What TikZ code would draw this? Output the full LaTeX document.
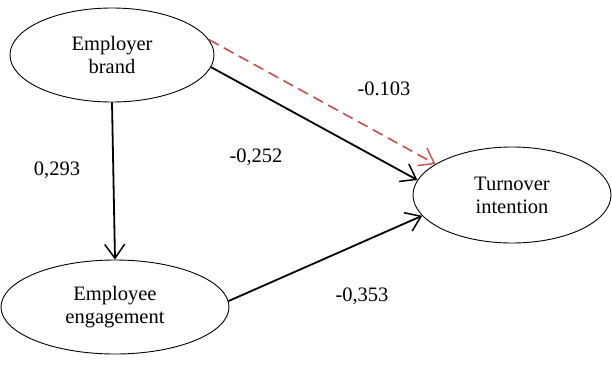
\documentclass[tikz,border=0pt]{standalone}
\usepackage{fontspec}
\setmainfont{Liberation Serif}
\newfontfamily\tnr{Liberation Serif}
\usetikzlibrary{shapes.geometric,arrows.meta}
\definecolor{dred}{RGB}{192,80,77}
\begin{document}
\begin{tikzpicture}[x=1pt,y=-1pt,
  every node/.style={font=\tnr\fontsize{20.5}{23}\selectfont},
  latent/.style={ellipse,draw,line width=0.9pt,inner sep=0pt,align=center},
  path/.style={line width=1.8pt,-{Straight Barb[length=14pt,width=20pt,line width=1.5pt]}},
  redpath/.style={line width=1.6pt,dred,dash pattern=on 11pt off 6pt,-{Straight Barb[length=14pt,width=20pt,line width=1.4pt]}},
  coef/.style={inner sep=0pt}]
\useasboundingbox (0,0) rectangle (612,364);
\node[latent,minimum width=204pt,minimum height=94pt] (eb) at (112,55) {Employer\\brand};
\node[latent,minimum width=228pt,minimum height=94pt] (ee) at (115,307) {Employee\\engagement};
\node[latent,minimum width=198pt,minimum height=96pt] (ti) at (512,195) {Turnover\\intention};
\draw[path] (eb.south) -- (ee.north);
\draw[path] (eb.-7) -- (ti.171);
\draw[redpath] (eb.9) -- (ti.158);
\draw[path] (ee.3) -- (ti.193);
\node[coef] (c1) at (57,170) {0,293};
\node[coef] (c2) at (256,157) {-0,252};
\node[coef] (c3) at (384,89) {-0.103};
\node[coef] (c4) at (362,296) {-0,353};
\end{tikzpicture}
\end{document}
